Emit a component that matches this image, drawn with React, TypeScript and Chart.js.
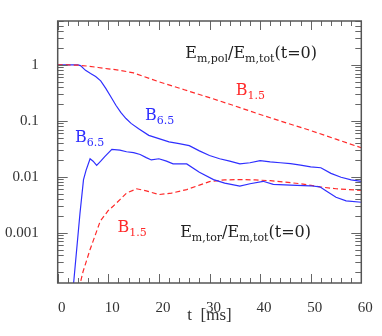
import React, { useEffect, useRef } from "react";
import { Chart, registerables } from "chart.js";

Chart.register(...registerables);

// Poloidal energy fraction, B_1.5 model (red dashed)
const polB15T = [0, 2, 4, 6, 8, 10, 12, 15, 20, 25, 30, 35, 40, 45, 50, 55, 60];
const polB15V = [1.0, 1.0, 0.99, 0.95, 0.9, 0.85, 0.81, 0.72, 0.5, 0.36, 0.26, 0.185, 0.13, 0.093, 0.067, 0.047, 0.033];

// Poloidal energy fraction, B_6.5 model (blue solid)
const polB65T = [0, 2, 4, 4.5, 5.5, 6.5, 7.5, 8.5, 9.5, 10.5, 11.5, 12.5, 13.5, 14.5, 16, 18, 20, 22, 24, 26, 28, 30, 32, 34, 36, 38, 40, 42, 44, 46, 48, 50, 52, 54, 56, 58, 60];
const polB65V = [1.0, 1.0, 1.0, 0.97, 0.8, 0.7, 0.62, 0.52, 0.38, 0.27, 0.19, 0.14, 0.11, 0.09, 0.072, 0.055, 0.048, 0.042, 0.039, 0.036, 0.029, 0.024, 0.021, 0.019, 0.017, 0.0178, 0.0195, 0.0185, 0.0178, 0.0172, 0.0162, 0.015, 0.0145, 0.0115, 0.0098, 0.0088, 0.0083];

// Toroidal energy fraction, B_6.5 model (blue solid)
const torB65T = [3.0, 4.4, 5.1, 5.6, 6.4, 7.0, 7.7, 8.5, 9.3, 10.7, 12.3, 13.6, 15, 16.3, 17.5, 18.5, 20, 21.5, 22.8, 25.5, 28, 30.8, 33, 36, 38, 40.6, 42.6, 46, 49.9, 51.8, 53, 55, 57, 60];
const torB65V = [0.00009, 0.0022, 0.0089, 0.013, 0.021, 0.019, 0.016, 0.019, 0.023, 0.031, 0.03, 0.028, 0.027, 0.025, 0.022, 0.02, 0.021, 0.019, 0.017, 0.017, 0.012, 0.0089, 0.0077, 0.0068, 0.0075, 0.0083, 0.0073, 0.0071, 0.0069, 0.0066, 0.0056, 0.0043, 0.0037, 0.0035];

// Toroidal energy fraction, B_1.5 model (red dashed)
const torB15T = [4.2, 5, 6.4, 8.4, 10, 11, 12.3, 13.6, 15.6, 17.5, 20, 22.5, 25.5, 28, 30, 33, 36, 39, 42, 45, 48, 51.8, 55, 60];
const torB15V = [0.0001, 0.0002, 0.0005, 0.0016, 0.0025, 0.003, 0.0039, 0.0051, 0.0061, 0.0056, 0.0048, 0.0051, 0.0059, 0.0071, 0.0082, 0.0088, 0.0089, 0.0088, 0.0085, 0.008, 0.0075, 0.0066, 0.0061, 0.0057];

// Axis ticks
const xMajorTicks = [0, 10, 20, 30, 40, 50, 60];
const xMinorStep = 2;
const yMajorTicks = [0.001, 0.01, 0.1, 1];
const yTickLabels = ["0.001", "0.01", "0.1", "1"];
const xMin = 0;
const xMax = 60;
const yMin = 1.26e-4;
const yMax = 6.1;

// Annotations: [x, y, parts(text, isSub), colour]
type Part = [string, boolean];
const annotations: { x: number; y: number; parts: Part[]; color: string }[] = [
  { x: 25.2, y: 1.57, parts: [["E", false], ["m,pol", true], ["/E", false], ["m,tot", true], ["(t=0)", false]], color: "#222" },
  { x: 35.2, y: 0.343, parts: [["B", false], ["1.5", true]], color: "#ff2a2a" },
  { x: 17.25, y: 0.123, parts: [["B", false], ["6.5", true]], color: "#2f2fff" },
  { x: 3.4, y: 0.05, parts: [["B", false], ["6.5", true]], color: "#2f2fff" },
  { x: 11.8, y: 0.00123, parts: [["B", false], ["1.5", true]], color: "#ff2a2a" },
  { x: 24.2, y: 0.001, parts: [["E", false], ["m,tor", true], ["/E", false], ["m,tot", true], ["(t=0)", false]], color: "#222" },
];

const zip = (t: number[], v: number[]) => t.map((x, i) => ({ x, y: v[i] }));

const FONT = "'DejaVu Serif', 'Liberation Serif', serif";
const TICKFONT = "'Liberation Serif', serif";

const framePlugin = {
  id: "frameTicks",
  afterDraw(chart: any) {
    const { ctx, chartArea: a, scales } = chart;
    const xs = scales.x;
    const ys = scales.y;
    ctx.save();
    ctx.strokeStyle = "#666";
    ctx.lineWidth = 1;
    ctx.beginPath();
    // x ticks (bottom and top, inward)
    for (let t = xMin; t <= xMax + 1e-9; t += xMinorStep) {
      const px = Math.round(xs.getPixelForValue(t)) + 0.5;
      const major = Math.abs(t % 10) < 1e-9;
      const len = major ? 9 : 5;
      ctx.moveTo(px, a.bottom);
      ctx.lineTo(px, a.bottom - len);
      ctx.moveTo(px, a.top);
      ctx.lineTo(px, a.top + len);
    }
    // y ticks (left and right, inward)
    for (let e = -4; e <= 1; e++) {
      for (let m = 1; m <= 9; m++) {
        const v = m * Math.pow(10, e);
        if (v < yMin || v > yMax) continue;
        const py = Math.round(ys.getPixelForValue(v)) + 0.5;
        const len = m === 1 ? 10 : 6;
        ctx.moveTo(a.left, py);
        ctx.lineTo(a.left + len, py);
        ctx.moveTo(a.right, py);
        ctx.lineTo(a.right - len, py);
      }
    }
    ctx.stroke();
    ctx.lineWidth = 1.5;
    ctx.strokeStyle = "#555";
    ctx.strokeRect(a.left, a.top, a.right - a.left, a.bottom - a.top);

    // annotations
    ctx.textBaseline = "middle";
    ctx.textAlign = "left";
    for (const an of annotations) {
      let px = xs.getPixelForValue(an.x);
      const py = ys.getPixelForValue(an.y);
      ctx.fillStyle = an.color;
      for (const [txt, sub] of an.parts) {
        ctx.font = sub ? `11px ${FONT}` : `16px ${FONT}`;
        ctx.fillText(txt, px, sub ? py + 5 : py);
        px += ctx.measureText(txt).width;
      }
    }
    ctx.restore();
  },
};

export default function App() {
  const ref = useRef<HTMLCanvasElement | null>(null);
  useEffect(() => {
    document.body.style.margin = "0";
    const canvas = ref.current!;
    const chart = new Chart(canvas, {
      type: "line",
      data: {
        datasets: [
          {
            data: zip(polB15T, polB15V),
            borderColor: "#ff2a2a",
            borderWidth: 1.2,
            borderDash: [5, 3],
            pointRadius: 0,
            fill: false,
          },
          {
            data: zip(polB65T, polB65V),
            borderColor: "#2f2fff",
            borderWidth: 1.2,
            pointRadius: 0,
            fill: false,
          },
          {
            data: zip(torB65T, torB65V),
            borderColor: "#2f2fff",
            borderWidth: 1.2,
            pointRadius: 0,
            fill: false,
          },
          {
            data: zip(torB15T, torB15V),
            borderColor: "#ff2a2a",
            borderWidth: 1.2,
            borderDash: [5, 3],
            pointRadius: 0,
            fill: false,
          },
        ],
      },
      options: {
        responsive: false,
        animation: false,
        events: [],
        layout: { padding: { left: 0, top: 21, right: 20.7, bottom: 0 } },
        plugins: { legend: { display: false }, tooltip: { enabled: false } },
        scales: {
          x: {
            type: "linear",
            min: xMin,
            max: xMax,
            grid: { display: false },
            border: { display: false },
            afterBuildTicks: (s: any) => {
              s.ticks = xMajorTicks.map((v) => ({ value: v }));
            },
            afterFit: (s: any) => {
              s.height = 53;
            },
            ticks: {
              padding: 8,
              labelOffset: 4,
              color: "#333",
              font: { family: TICKFONT, size: 15 },
              maxRotation: 0,
              autoSkip: false,
            },
            title: {
              display: true,
              text: "t  [ms]",
              color: "#333",
              font: { family: TICKFONT, size: 17 },
              padding: { top: 0, bottom: 10 },
            },
          },
          y: {
            type: "logarithmic",
            min: yMin,
            max: yMax,
            grid: { display: false },
            border: { display: false },
            afterBuildTicks: (s: any) => {
              s.ticks = yMajorTicks.map((v) => ({ value: v }));
            },
            afterFit: (s: any) => {
              s.width = 57.7;
            },
            ticks: {
              padding: 11,
              color: "#333",
              font: { family: TICKFONT, size: 15 },
              autoSkip: false,
              callback: (v: any) => {
                const i = yMajorTicks.findIndex((t) => Math.abs(t - Number(v)) / t < 1e-6);
                return i >= 0 ? yTickLabels[i] : "";
              },
            },
          },
        },
      },
      plugins: [framePlugin],
    });
    return () => chart.destroy();
  }, []);
  return (
    <div style={{ width: 382, height: 336 }}>
      <canvas ref={ref} width={382} height={336} style={{ display: "block" }} />
    </div>
  );
}
